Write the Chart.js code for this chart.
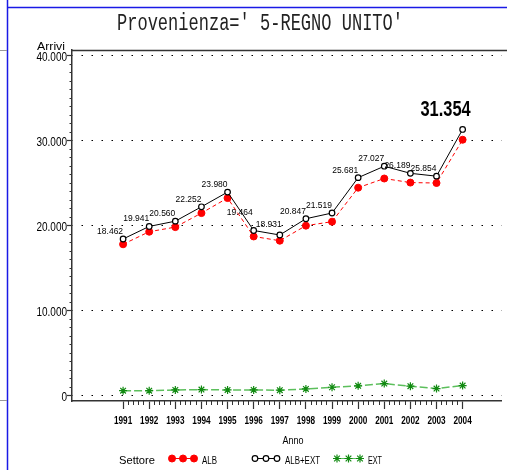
<!DOCTYPE html>
<html>
<head>
<meta charset="utf-8">
<script src="https://cdn.jsdelivr.net/npm/chart.js@4"></script>
<style>
  html, body { margin: 0; padding: 0; background: #fff; overflow: hidden; }
  canvas { display: block; }
</style>
</head>
<body>
<canvas id="grafico" width="507" height="470"></canvas>
<script>
// dati
const anni = [1991, 1992, 1993, 1994, 1995, 1996, 1997, 1998, 1999, 2000, 2001, 2002, 2003, 2004];
const albExt = [18462, 19941, 20560, 22252, 23980, 19464, 18931, 20847, 21519, 25681, 27027, 26189, 25854, 31354];
const alb = [17840, 19320, 19860, 21510, 23280, 18760, 18260, 20030, 20500, 24500, 25580, 25100, 25050, 30140];
const ext = [620, 620, 700, 740, 700, 700, 670, 820, 1020, 1180, 1450, 1140, 860, 1210];
const yTicks = [0, 10000, 20000, 30000, 40000];
const yTickLabels = ['0', '10.000', '20.000', '30.000', '40.000'];
const titolo = "Provenienza=' 5-REGNO UNITO'";

// spostamenti di alcune etichette (come nel grafico originale)
const spostaEtichetta = { 1996: [-1, -10], 1997: [2, -3] };

const punti = serie => anni.map((a, i) => ({ x: a, y: serie[i] }));

const minoriX = [];
for (let i = 0; i < anni.length - 1; i++) {
  for (let k = 1; k <= 4; k++) minoriX.push(anni[i] + k * (anni[i + 1] - anni[i]) / 5);
}
const minoriY = [];
for (let i = 0; i < yTicks.length - 1; i++) {
  for (let k = 1; k <= 9; k++) minoriY.push(yTicks[i] + k * (yTicks[i + 1] - yTicks[i]) / 10);
}

// testo "alto e stretto" in stile SAS
function scritta(ctx, txt, x, base, align, px, peso, fam, sx, cap, colore) {
  ctx.save();
  ctx.font = peso + ' ' + px + 'px ' + fam;
  const m = ctx.measureText('H');
  const sy = cap / m.actualBoundingBoxAscent;
  const w = ctx.measureText(txt).width * sx;
  let left = x;
  if (align === 'center') left = x - w / 2;
  if (align === 'right') left = x - w;
  ctx.translate(left, base);
  ctx.scale(sx, sy);
  ctx.textAlign = 'left';
  ctx.textBaseline = 'alphabetic';
  ctx.fillStyle = colore || '#000';
  ctx.fillText(txt, 0, 0);
  ctx.restore();
}
function scrittaLarga(ctx, txt, left, width, base, cap, fam, colore) {
  ctx.save();
  ctx.font = '20px ' + fam;
  const sx = width / ctx.measureText(txt).width;
  ctx.restore();
  scritta(ctx, txt, left, base, 'left', 20, 'normal', fam, sx, cap, colore);
}

const SANS = '"Liberation Sans", Arial, sans-serif';
const MONO = '"Liberation Mono", "DejaVu Sans Mono", monospace';

const decorazioni = {
  id: 'decorazioni',
  beforeDraw(chart) {
    const ctx = chart.ctx;
    ctx.save();
    ctx.fillStyle = '#fff';
    ctx.fillRect(0, 0, chart.width, chart.height);
    ctx.strokeStyle = '#1a1ae6';
    ctx.lineWidth = 1.5;
    ctx.beginPath();
    ctx.moveTo(7.5, 0); ctx.lineTo(7.5, 470);
    ctx.moveTo(7, 7.5); ctx.lineTo(507, 7.5);
    ctx.stroke();
    ctx.strokeStyle = '#999';
    ctx.lineWidth = 1;
    ctx.beginPath();
    ctx.moveTo(0, 50.5); ctx.lineTo(7, 50.5);
    ctx.moveTo(0, 400.5); ctx.lineTo(7, 400.5);
    ctx.stroke();
    ctx.restore();
  },
  afterDraw(chart) {
    const ctx = chart.ctx;
    const area = chart.chartArea;
    const sx = chart.scales.x, sy = chart.scales.y;

    // cornice superiore
    ctx.save();
    ctx.strokeStyle = '#333';
    ctx.lineWidth = 1.5;
    ctx.beginPath();
    ctx.moveTo(area.left, area.top + 0.5);
    ctx.lineTo(chart.width, area.top + 0.5);
    ctx.stroke();
    ctx.restore();

    // titolo
    scrittaLarga(ctx, titolo, 117, 286, 29.5, 16, MONO, '#222');

    // asse y
    yTicks.forEach((v, i) => {
      scritta(ctx, yTickLabels[i], 67, sy.getPixelForValue(v) + 5, 'right', 10, 'normal', SANS, 1, 10);
    });
    scrittaLarga(ctx, 'Arrivi', 37, 28, 49.5, 8, SANS);

    // asse x
    anni.forEach(a => {
      scritta(ctx, String(a), sx.getPixelForValue(a), 424, 'center', 8.2, 'bold', SANS, 1, 8);
    });
    scritta(ctx, 'Anno', 293, 444, 'center', 9, 'normal', SANS, 1, 7.5);

    // legenda
    const ly = 458.5;
    scrittaLarga(ctx, 'Settore', 119, 36, 463.5, 7.5, SANS);
    const voci = [
      { ds: chart.data.datasets[0], xs: [172, 183, 194], testo: 'ALB', tx: 202, tw: 15 },
      { ds: chart.data.datasets[1], xs: [255, 266, 277], testo: 'ALB+EXT', tx: 285, tw: 35 },
      { ds: chart.data.datasets[2], xs: [337, 348.5, 360], testo: 'EXT', tx: 368, tw: 14 }
    ];
    voci.forEach(v => {
      ctx.save();
      ctx.strokeStyle = v.ds.borderColor;
      ctx.lineWidth = 1;
      ctx.beginPath();
      ctx.moveTo(v.xs[0], ly); ctx.lineTo(v.xs[2], ly);
      ctx.stroke();
      ctx.restore();
      v.xs.forEach(px => {
        ctx.save();
        ctx.fillStyle = v.ds.pointBackgroundColor;
        ctx.strokeStyle = v.ds.pointBorderColor;
        ctx.lineWidth = v.ds.pointBorderWidth;
        Chart.helpers.drawPoint(ctx, { pointStyle: v.ds.pointStyle, radius: v.ds.pointRadius, rotation: 0, borderWidth: v.ds.pointBorderWidth }, px, ly);
        ctx.restore();
      });
      scrittaLarga(ctx, v.testo, v.tx, v.tw, 463.5, 7.5, SANS);
    });
  },
  afterDatasetsDraw(chart) {
    const ctx = chart.ctx;
    const meta = chart.getDatasetMeta(1);
    meta.data.forEach((p, i) => {
      const txt = albExt[i].toLocaleString('it-IT');
      if (i === albExt.length - 1) {
        scritta(ctx, txt, p.x + 8, p.y - 13.5, 'right', 20, 'bold', SANS, 0.82, 16);
        return;
      }
      const d = spostaEtichetta[anni[i]] || [0, 0];
      scritta(ctx, txt, p.x + d[0], p.y - 5 + d[1], 'right', 10, 'normal', SANS, 0.85, 7.5);
    });
  }
};

new Chart(document.getElementById('grafico'), {
  type: 'line',
  data: {
    datasets: [
      {
        label: 'ALB', data: punti(alb), order: 2,
        borderColor: '#ff0000', borderWidth: 1, borderDash: [4, 3],
        pointStyle: 'circle', pointRadius: 3.5, pointBorderWidth: 1,
        pointBackgroundColor: '#ff0000', pointBorderColor: '#ff0000'
      },
      {
        label: 'ALB+EXT', data: punti(albExt), order: 1,
        borderColor: '#000000', borderWidth: 1,
        pointStyle: 'circle', pointRadius: 2.8, pointBorderWidth: 1.2,
        pointBackgroundColor: '#ffffff', pointBorderColor: '#000000'
      },
      {
        label: 'EXT', data: punti(ext), order: 3,
        borderColor: '#5cbf5c', borderWidth: 1.5, borderDash: [8, 3],
        pointStyle: 'star', pointRadius: 4, pointBorderWidth: 1.2,
        pointBackgroundColor: '#118a11', pointBorderColor: '#118a11'
      }
    ]
  },
  options: {
    responsive: false,
    animation: false,
    devicePixelRatio: 1,
    layout: { padding: { top: 50, left: 0, right: 0, bottom: 0 } },
    plugins: { legend: { display: false }, tooltip: { enabled: false } },
    elements: { line: { tension: 0 } },
    scales: {
      x: {
        type: 'linear', position: 'bottom', weight: 1,
        min: 1989.044, max: 2005.50,
        afterBuildTicks: s => { s.ticks = anni.map(v => ({ value: v })); },
        afterFit: s => { s.height = 69; },
        ticks: { display: false },
        grid: { drawOnChartArea: false, drawTicks: true, tickLength: 8, tickColor: '#333', tickWidth: 1.2 },
        border: { display: true, color: '#333', width: 1.5 }
      },
      xMinor: {
        type: 'linear', position: 'bottom', weight: 0,
        min: 1989.044, max: 2005.50,
        afterBuildTicks: s => { s.ticks = minoriX.map(v => ({ value: v })); },
        afterFit: s => { s.height = 0; },
        ticks: { display: false },
        grid: { drawOnChartArea: false, drawTicks: true, tickLength: 4, tickColor: '#333', tickWidth: 1 },
        border: { display: false }
      },
      y: {
        type: 'linear', position: 'left', weight: 1,
        min: -600, max: 40700,
        afterBuildTicks: s => { s.ticks = yTicks.map(v => ({ value: v })); },
        afterFit: s => { s.width = 72; },
        ticks: { display: false },
        grid: { color: '#000', lineWidth: 1, drawTicks: true, tickLength: 5, tickColor: '#333', tickWidth: 1.2 },
        border: { display: true, color: '#333', width: 1.5, dash: [1.5, 8.5], dashOffset: 1 }
      },
      yMinor: {
        type: 'linear', position: 'left', weight: 0,
        min: -600, max: 40700,
        afterBuildTicks: s => { s.ticks = minoriY.map(v => ({ value: v })); },
        afterFit: s => { s.width = 0; },
        ticks: { display: false },
        grid: { drawOnChartArea: false, drawTicks: true, tickLength: 2.5, tickColor: '#333', tickWidth: 1 },
        border: { display: false }
      }
    }
  },
  plugins: [decorazioni]
});
</script>
</body>
</html>
